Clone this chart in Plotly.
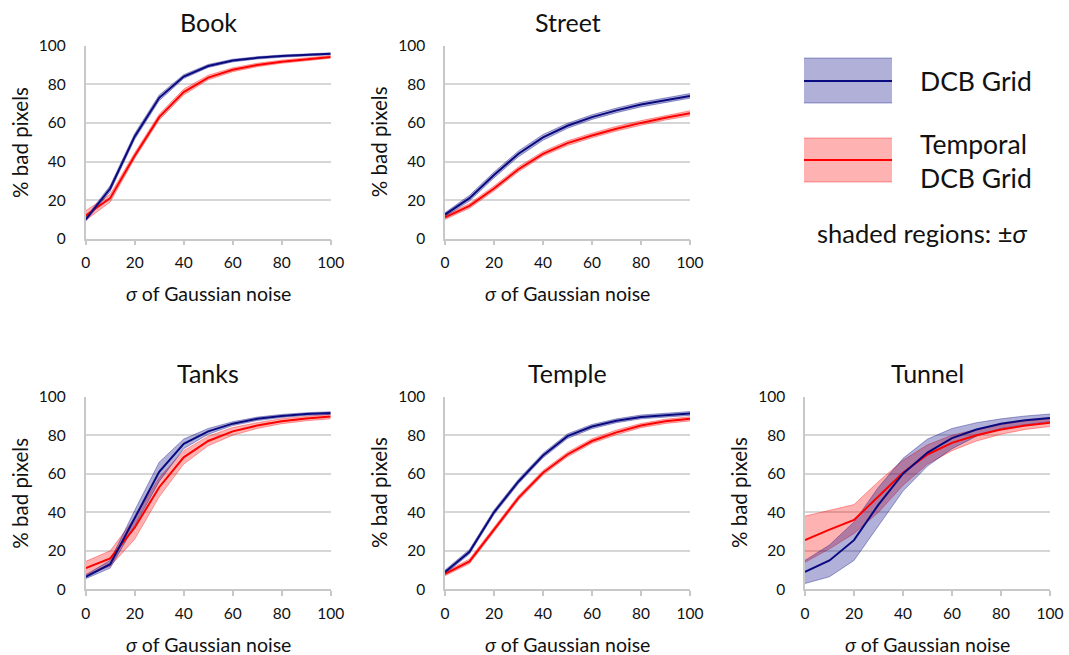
import plotly.graph_objects as go

x = [0, 10, 20, 30, 40, 50, 60, 70, 80, 90, 100]

titles = ["Book", "Street", "Tanks", "Temple", "Tunnel"]

# DCB Grid (blue): mean, lower, upper ; Temporal DCB Grid (red): mean, lower, upper
book_dcb = [10, 26, 53, 73, 84, 89.5, 92.3, 93.7, 94.6, 95.3, 95.8]
book_dcb_lo = [9, 24.5, 51.5, 71.5, 83, 88.7, 91.6, 93.1, 94.0, 94.8, 95.3]
book_dcb_hi = [11, 27.5, 54.5, 74.5, 85, 90.3, 93.0, 94.3, 95.2, 95.8, 96.3]
book_tmp = [12, 21, 43, 63, 76, 83.5, 87.5, 90, 91.7, 93, 94.2]
book_tmp_lo = [9.5, 19, 41.5, 61.5, 74.5, 82.3, 86.5, 89.1, 90.9, 92.3, 93.5]
book_tmp_hi = [14.5, 23, 44.5, 64.5, 77.5, 84.7, 88.5, 90.9, 92.5, 93.7, 94.9]

street_dcb = [12.5, 21, 33, 44, 52.5, 58.5, 63, 66.5, 69.5, 71.8, 74]
street_dcb_lo = [11.5, 19.5, 31.5, 42.5, 51, 57.2, 61.8, 65.3, 68.3, 70.6, 72.8]
street_dcb_hi = [13.5, 22.5, 34.5, 45.5, 54, 59.8, 64.2, 67.7, 70.7, 73.0, 75.2]
street_tmp = [11, 17, 26, 36, 44, 49.5, 53.5, 57, 60, 62.7, 65]
street_tmp_lo = [10, 15.8, 24.7, 34.7, 42.8, 48.3, 52.3, 55.8, 58.8, 61.5, 63.7]
street_tmp_hi = [12, 18.2, 27.3, 37.3, 45.2, 50.7, 54.7, 58.2, 61.2, 63.9, 66.3]

tanks_dcb = [6.5, 13, 37, 61, 75.5, 82, 86, 88.5, 90, 91, 91.5]
tanks_dcb_lo = [5.5, 11, 33, 56, 73, 80.5, 85, 87.6, 89.2, 90.3, 90.8]
tanks_dcb_hi = [7.5, 15, 41, 66, 78, 83.5, 87, 89.4, 90.8, 91.7, 92.2]
tanks_tmp = [11, 16, 32, 53, 68.5, 77, 82, 85, 87.3, 88.7, 89.7]
tanks_tmp_lo = [7.5, 12, 26, 48, 65, 74.5, 80, 83.5, 86, 87.5, 88.5]
tanks_tmp_hi = [14.5, 20, 37, 58, 72, 79.5, 84, 86.5, 88.6, 89.9, 90.9]

temple_dcb = [9, 19.5, 40, 56, 69.5, 79.5, 84.5, 87.5, 89.5, 90.5, 91.3]
temple_dcb_lo = [8, 18.3, 38.8, 54.8, 68.3, 78.3, 83.4, 86.5, 88.5, 89.5, 90.3]
temple_dcb_hi = [10, 20.7, 41.2, 57.2, 70.7, 80.7, 85.6, 88.5, 90.5, 91.5, 92.3]
temple_tmp = [8, 14.5, 31, 47.5, 60.5, 70, 77, 81.5, 85, 87.2, 88.5]
temple_tmp_lo = [7, 13.3, 29.8, 46.3, 59.3, 68.8, 75.8, 80.3, 83.9, 86.1, 87.4]
temple_tmp_hi = [9, 15.7, 32.2, 48.7, 61.7, 71.2, 78.2, 82.7, 86.1, 88.3, 89.6]

tunnel_dcb = [9, 15, 25.5, 44, 60, 71, 78.5, 83, 86, 87.8, 89]
tunnel_dcb_lo = [3, 6.5, 15, 33, 51, 64, 73, 79.5, 83.5, 85.5, 87]
tunnel_dcb_hi = [15, 23, 35, 53, 68, 78, 83.5, 86.5, 88.5, 90, 91]
tunnel_tmp = [25.5, 31, 36, 48, 60.5, 70, 76, 80, 83, 85, 86.5]
tunnel_tmp_lo = [14, 21, 29, 40, 54, 65, 72, 77, 80.5, 83, 84.5]
tunnel_tmp_hi = [38, 41, 44, 56, 67, 75, 80, 83, 85.5, 87.5, 88.5]

panels = [
    (book_dcb, book_dcb_lo, book_dcb_hi, book_tmp, book_tmp_lo, book_tmp_hi),
    (street_dcb, street_dcb_lo, street_dcb_hi, street_tmp, street_tmp_lo, street_tmp_hi),
    (tanks_dcb, tanks_dcb_lo, tanks_dcb_hi, tanks_tmp, tanks_tmp_lo, tanks_tmp_hi),
    (temple_dcb, temple_dcb_lo, temple_dcb_hi, temple_tmp, temple_tmp_lo, temple_tmp_hi),
    (tunnel_dcb, tunnel_dcb_lo, tunnel_dcb_hi, tunnel_tmp, tunnel_tmp_lo, tunnel_tmp_hi),
]

W, H = 1069, 655
FONT = "Lato"
TXT = "#111"
BLUE = "#0a0a80"
RED = "#ff0000"
BLUE_FILL = "rgba(0,0,128,0.31)"
RED_FILL = "rgba(255,0,0,0.30)"
BLUE_EDGE = "rgba(0,0,128,0.35)"
RED_EDGE = "rgba(255,0,0,0.35)"

# pixel positions of panels: (x0, x1) per column, (ytop, ybottom) per row
xcols = [(85.7, 330.7), (445, 690), (805, 1050)]
yrows = [(45.7, 238.7), (396.7, 589.3)]
pos = [(0, 0), (1, 0), (0, 1), (1, 1), (2, 1)]

fig = go.Figure()
annotations = []
layout_axes = {}

for i, (data, (ci, ri)) in enumerate(zip(panels, pos)):
    n = i + 1
    xa = "x" if n == 1 else f"x{n}"
    ya = "y" if n == 1 else f"y{n}"
    dcb, dlo, dhi, tmp, tlo, thi = data
    fig.add_trace(go.Scatter(x=x, y=thi, mode="lines", line=dict(color=RED_EDGE, width=1),
                             xaxis=xa, yaxis=ya, showlegend=False, hoverinfo="skip"))
    fig.add_trace(go.Scatter(x=x, y=tlo, mode="lines", line=dict(color=RED_EDGE, width=1),
                             fill="tonexty", fillcolor=RED_FILL,
                             xaxis=xa, yaxis=ya, showlegend=False, hoverinfo="skip"))
    fig.add_trace(go.Scatter(x=x, y=dhi, mode="lines", line=dict(color=BLUE_EDGE, width=1),
                             xaxis=xa, yaxis=ya, showlegend=False, hoverinfo="skip"))
    fig.add_trace(go.Scatter(x=x, y=dlo, mode="lines", line=dict(color=BLUE_EDGE, width=1),
                             fill="tonexty", fillcolor=BLUE_FILL,
                             xaxis=xa, yaxis=ya, showlegend=False, hoverinfo="skip"))
    fig.add_trace(go.Scatter(x=x, y=tmp, mode="lines", line=dict(color=RED, width=2),
                             xaxis=xa, yaxis=ya, showlegend=False, name="Temporal DCB Grid"))
    fig.add_trace(go.Scatter(x=x, y=dcb, mode="lines", line=dict(color=BLUE, width=2),
                             xaxis=xa, yaxis=ya, showlegend=False, name="DCB Grid"))

    px0, px1 = xcols[ci]
    pyt, pyb = yrows[ri]
    xd = [px0 / W, px1 / W]
    yd = [1 - pyb / H, 1 - pyt / H]
    key = "" if n == 1 else str(n)
    layout_axes["xaxis" + key] = dict(
        domain=xd, range=[0, 100], anchor=ya, tickvals=[0, 20, 40, 60, 80, 100],
        showgrid=False, zeroline=False, showline=True, linecolor="#c8c8c8", linewidth=1.5,
        ticks="outside", ticklen=5, tickcolor="#c8c8c8", tickwidth=1.5, automargin=False,
        ticklabelstandoff=4,
        tickfont=dict(family=FONT, size=15.5, color=TXT), fixedrange=True,
    )
    layout_axes["yaxis" + key] = dict(
        domain=yd, range=[0, 100], anchor=xa, tickvals=[0, 20, 40, 60, 80, 100],
        showgrid=True, gridcolor="#d6d6d6", gridwidth=1.5, zeroline=False, automargin=False,
        showline=True, linecolor="#c8c8c8", linewidth=1.5, ticks="", ticklabelstandoff=15,
        tickfont=dict(family=FONT, size=15.5, color=TXT), fixedrange=True,
    )
    cx = (px0 + px1) / 2 / W
    annotations.append(dict(text=titles[i], x=cx, y=1 - (pyt - 24) / H, xref="paper", yref="paper",
                            showarrow=False, xanchor="center", yanchor="middle",
                            font=dict(family=FONT, size=25, color=TXT)))
    annotations.append(dict(text="<i>σ</i> of Gaussian noise", x=cx, y=1 - (pyb + 55) / H,
                            xref="paper", yref="paper", showarrow=False,
                            xanchor="center", yanchor="middle",
                            font=dict(family=FONT, size=19.5, color=TXT)))
    annotations.append(dict(text="% bad pixels", x=(px0 - 66) / W, y=1 - (pyt + pyb) / 2 / H,
                            xref="paper", yref="paper", showarrow=False, textangle=-90,
                            xanchor="center", yanchor="middle",
                            font=dict(family=FONT, size=20.5, color=TXT)))

# legend drawn as shapes + text
shapes = []
for (yt, yb, ym, fillc, edge, linec) in [(58, 103, 81, BLUE_FILL, BLUE_EDGE, BLUE),
                                          (138, 182, 160, RED_FILL, RED_EDGE, RED)]:
    x0, x1 = 804 / W, 892 / W
    y0, y1 = 1 - yb / H, 1 - yt / H
    shapes.append(dict(type="rect", xref="paper", yref="paper", x0=x0, x1=x1, y0=y0, y1=y1,
                       fillcolor=fillc, line=dict(width=0)))
    for yy in (yt, yb):
        shapes.append(dict(type="line", xref="paper", yref="paper", x0=x0, x1=x1,
                           y0=1 - yy / H, y1=1 - yy / H, line=dict(color=edge, width=1)))
    shapes.append(dict(type="line", xref="paper", yref="paper", x0=x0, x1=x1,
                       y0=1 - ym / H, y1=1 - ym / H, line=dict(color=linec, width=2)))

annotations.append(dict(text="DCB Grid", x=918 / W, y=1 - 81 / H, xref="paper", yref="paper",
                        showarrow=False, xanchor="left", yanchor="middle",
                        font=dict(family=FONT, size=26.5, color=TXT)))
annotations.append(dict(text="Temporal<br>DCB Grid", x=918 / W, y=1 - 161 / H, xref="paper",
                        yref="paper", showarrow=False, xanchor="left", yanchor="middle", align="left",
                        font=dict(family=FONT, size=26.5, color=TXT)))
annotations.append(dict(text="shaded regions: ±<i>σ</i>", x=922 / W, y=1 - 233 / H, xref="paper",
                        yref="paper", showarrow=False, xanchor="center", yanchor="middle",
                        font=dict(family=FONT, size=25.5, color=TXT)))

fig.update_layout(
    width=W, height=H, margin=dict(l=0, r=0, t=0, b=0, autoexpand=False),
    paper_bgcolor="white", plot_bgcolor="white",
    annotations=annotations, shapes=shapes, showlegend=False,
    **layout_axes,
)

fig.write_html("out.html", config={"displayModeBar": False})
